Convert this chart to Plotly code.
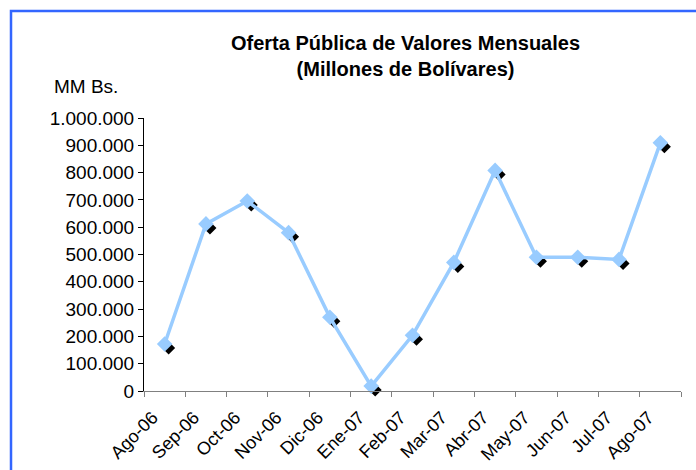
import plotly.graph_objects as go

months = ["Ago-06", "Sep-06", "Oct-06", "Nov-06", "Dic-06", "Ene-07", "Feb-07",
          "Mar-07", "Abr-07", "May-07", "Jun-07", "Jul-07", "Ago-07"]
values = [172000, 612000, 696000, 580000, 270000, 18000, 204000,
          471000, 808000, 490000, 490000, 482000, 909000]

title_text = "<b>Oferta Pública de Valores Mensuales<br>(Millones de Bolívares)</b>"
unit_text = "MM Bs."

W, H = 696, 470
ML, MR, MT, MB = 144, 11, 118, 75
PW = W - ML - MR
PH = H - MT - MB
DX, DY = 4, 4

FONT = "Liberation Sans, Arial, sans-serif"

fig = go.Figure()

# shadow markers (drawn on a hidden, slightly shifted copy of the axes: x/y)
fig.add_trace(go.Scatter(
    x=months, y=values, mode="markers", xaxis="x", yaxis="y",
    marker=dict(symbol="diamond", size=10, color="black"),
    hoverinfo="skip", showlegend=False, cliponaxis=False))

# main series on the visible axes (x2/y2), drawn above the shadows
fig.add_trace(go.Scatter(
    x=months, y=values, mode="lines+markers", xaxis="x2", yaxis="y2",
    line=dict(color="#99CCFF", width=3.5),
    marker=dict(symbol="diamond", size=12, color="#99CCFF"),
    showlegend=False, cliponaxis=False))

main_x_dom = [0, (PW - DX) / PW]
main_y_dom = [DY / PH, 1]
sh_x_dom = [DX / PW, 1]
sh_y_dom = [0, (PH - DY) / PH]

fig.update_layout(
    width=W, height=H,
    margin=dict(l=ML, r=MR, t=MT, b=MB, autoexpand=False),
    paper_bgcolor="white", plot_bgcolor="rgba(0,0,0,0)",
    separators=",.",
    font=dict(family=FONT, size=19, color="black"),
    xaxis2=dict(
        domain=main_x_dom, anchor="y2", type="category",
        categoryorder="array", categoryarray=months,
        range=[-0.5, len(months) - 0.5], automargin=False,
        tickson="boundaries", ticks="outside", ticklen=5, tickcolor="#808080",
        showline=True, linecolor="#808080", linewidth=1,
        showgrid=False, zeroline=False,
        ticklabelshift=-12, ticklabelstandoff=8,
        tickangle=-45, tickfont=dict(family=FONT, size=18, color="black")),
    yaxis2=dict(
        domain=main_y_dom, anchor="x2", automargin=False,
        range=[0, 1000000], dtick=100000, tick0=0, tickformat=",d",
        ticks="outside", ticklen=5, tickcolor="black",
        showline=True, linecolor="black", linewidth=1,
        showgrid=False, zeroline=False,
        tickfont=dict(family=FONT, size=19, color="black")),
    xaxis=dict(
        domain=sh_x_dom, anchor="y", type="category",
        categoryorder="array", categoryarray=months, automargin=False,
        range=[-0.5, len(months) - 0.5], visible=False),
    yaxis=dict(
        domain=sh_y_dom, anchor="x", automargin=False,
        range=[0, 1000000], visible=False),
)

# border around the chart area (extends past the picture's right/bottom edges)
fig.add_shape(type="rect", xref="paper", yref="paper",
              x0=(11 - ML) / PW, x1=(W + 10 - ML) / PW,
              y0=(H - MB - (H + 10)) / PH, y1=(H - MB - 11) / PH,
              line=dict(color="#3366FF", width=2.5), fillcolor="rgba(0,0,0,0)",
              layer="below")

fig.add_annotation(text=title_text, xref="paper", yref="paper",
                   x=(405 - ML) / PW, y=(H - MB - 56) / PH,
                   xanchor="center", yanchor="middle", showarrow=False,
                   font=dict(family=FONT, size=20, color="black"))
fig.add_annotation(text=unit_text, xref="paper", yref="paper",
                   x=(86 - ML) / PW, y=(H - MB - 87) / PH,
                   xanchor="center", yanchor="middle", showarrow=False,
                   font=dict(family=FONT, size=19, color="black"))

fig.write_html("out.html",
               config={"displayModeBar": False},
               post_script="document.body.style.margin='0';document.body.style.overflow='hidden';")
